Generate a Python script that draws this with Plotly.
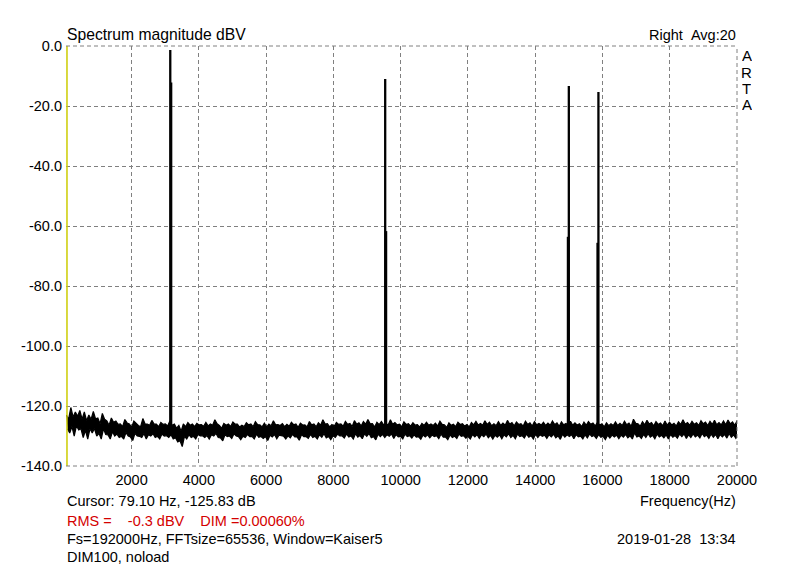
import numpy as np
import plotly.graph_objects as go

# ---------------- data ----------------
x_tick_vals = [2000, 4000, 6000, 8000, 10000, 12000, 14000, 16000, 18000, 20000]
x_tick_text = [str(v) for v in x_tick_vals]
y_tick_vals = [0, -20, -40, -60, -80, -100, -120, -140]
y_tick_text = ["0.0", "-20.0", "-40.0", "-60.0", "-80.0", "-100.0", "-120.0", "-140.0"]

# noise floor: upper and lower edge of the noise band, 60 Hz .. 20 kHz
noise_hi_db = [
    -123, -120.5, -122, -121.5, -122, -123, -121.8, -124, -122.5, -125,
    -124, -125, -126, -124.5, -126, -125, -126.5, -124.2, -126, -124.8,
    -126, -125.5, -126, -125, -126, -126.5, -126, -125.5, -126, -125.8,
    -126.2, -125.5, -126, -124.6, -126.5, -125.8, -126, -125.3, -126, -126.4,
    -125.6, -126, -125.2, -126.3, -125.7, -126, -124.9, -126.2, -125.9, -126.1,
    -125.4, -126, -125.7, -126.3, -125.2, -126, -125.6, -124.6, -125.9, -126.2,
    -125.5, -126, -125.1, -125.8, -124.9, -125.6, -125.2, -124.5, -125.9, -125.4,
    -125.2, -125.8, -124.6, -125.5, -126.1, -125.3, -125.9, -125.6, -126.2, -125.8,
    -125.4, -126, -125.7, -125.1, -126.3, -125.6, -126.1, -125.4, -125.9, -126.2,
    -125.5, -125.1, -125.8, -124.9, -125.4, -125.9, -125.2, -125.7, -124.8, -125.5,
    -125.3, -125.9, -125.1, -125.6, -125.2, -125.8, -125.4, -125.7, -125, -125.6,
    -125.3, -125.8, -125.1, -125.6, -125.9, -125.4, -125.2, -125.7, -125.5, -125.9,
    -125.6, -125.9, -125.3, -125.8, -125.1, -125.7, -124.4, -125.9, -125.2, -124.8,
    -125.5, -125.2, -125.7, -125, -125.4, -125.8, -125.3, -124.6, -125.5, -125.1,
    -125.6, -124.9, -125.4, -125.1, -124.8, -125.5, -125, -124.7, -125.3, -125,
]
noise_lo_db = [
    -129, -130, -128, -130.5, -131, -129, -130, -131, -129.5, -131,
    -130, -130.5, -131, -130, -131.5, -130, -130.5, -131, -130, -130.5,
    -131, -130, -130.5, -131, -132, -133.5, -131, -130.5, -131, -130,
    -130.5, -131, -130, -130.5, -131.6, -130.2, -130.8, -130, -131.2, -130.5,
    -130.2, -131, -130.4, -130.8, -131.5, -130.3, -130.9, -130, -131, -130.6,
    -130.3, -131.4, -130.2, -130.8, -130.5, -131, -130.4, -130.6, -131.2, -130.5,
    -130, -130.7, -130.3, -131, -130.4, -130.9, -130.1, -130.6, -131.3, -130.2,
    -130.5, -130.1, -130.8, -130.3, -131, -130.2, -130.7, -130.4, -131.1, -130.3,
    -130.6, -130.2, -130.9, -130.4, -131.2, -130.5, -130.8, -130.1, -130.7, -131,
    -130.3, -130.8, -130.2, -130.6, -131, -130.4, -130.9, -130.3, -130.5, -130.9,
    -130.2, -130.7, -130.4, -131, -130.5, -130.1, -130.8, -130.3, -130.6, -131.1,
    -130.4, -130.2, -130.9, -130.3, -131, -130.6, -130.2, -130.8, -130.4, -131.2,
    -130.7, -130.3, -130.9, -130.4, -130.6, -131, -130.3, -130.8, -130.5, -130.4,
    -130.9, -130.3, -130.6, -131, -130.4, -130.7, -130.2, -130.8, -130.5, -130.3,
    -130.6, -130.2, -130.8, -130.4, -130.9, -130.3, -130.7, -130.4, -130.8, -130.5,
]
noise_core_halfwidth_db = 1.6   # half-height of the solid core of the noise band
noise_f_start = 60
noise_f_stop = 20000

# spectral peaks (Hz), main-bin level and neighbouring-bin level (dBV)
peak_freqs = [3150, 9540, 15000, 15880]
peak_top_db = [-1.3, -11.0, -13.3, -15.3]
peak_side_db = [-12.2, -61.7, -63.6, -65.6]
peak_side_dir = [1, 1, -1, -1]
peak_base_db = -128.0

cursor_freq = 79.10
x_range = [50, 20000]
y_range = [-140, 0]

# ---------------- figure ----------------
hi = np.array(noise_hi_db)
lo = np.array(noise_lo_db)
mid = (hi + lo) / 2.0
noise_f = np.linspace(noise_f_start, noise_f_stop, len(hi))
step = noise_f[1] - noise_f[0]

# comb-shaped band edges: spike at each sample, back to core in between
up_x, up_y, dn_x, dn_y = [], [], [], []
for i in range(len(hi)):
    up_x += [noise_f[i], noise_f[i] + step * 0.5]
    up_y += [hi[i], mid[i] + noise_core_halfwidth_db]
    dn_x += [noise_f[i] + step * 0.25, noise_f[i] + step * 0.75]
    dn_y += [mid[i] - noise_core_halfwidth_db, lo[i]]

fig = go.Figure()
fig.add_trace(go.Scatter(x=dn_x, y=dn_y, mode="lines",
                         line=dict(color="black", width=1.2), hoverinfo="skip",
                         showlegend=False))
fig.add_trace(go.Scatter(x=up_x, y=up_y, mode="lines",
                         line=dict(color="black", width=1.2), fill="tonexty",
                         fillcolor="black", hoverinfo="skip", showlegend=False))

px_hz = (x_range[1] - x_range[0]) / 671.0
px_x, px_y = [], []
for f, top, side, d in zip(peak_freqs, peak_top_db, peak_side_db, peak_side_dir):
    px_x += [f, f, None, f + d * 0.9 * px_hz, f + d * 0.9 * px_hz, None]
    px_y += [peak_base_db, top, None, peak_base_db, side, None]
fig.add_trace(go.Scatter(x=px_x, y=px_y, mode="lines",
                         line=dict(color="black", width=2.3), hoverinfo="skip",
                         showlegend=False, connectgaps=False))

# cursor
fig.add_shape(type="line", xref="x", yref="paper", x0=cursor_freq, x1=cursor_freq,
              y0=0, y1=1, line=dict(color="#cccc00", width=1.5))

font_main = "Liberation Sans, Arial, sans-serif"
grid_col = "#808080"
fs = 14.5

fig.update_layout(
    width=800, height=568,
    margin=dict(l=66, r=63, t=46, b=102),
    paper_bgcolor="white", plot_bgcolor="white",
    font=dict(family=font_main, size=fs, color="black"),
    xaxis=dict(range=x_range, tickvals=x_tick_vals, ticktext=x_tick_text,
               showgrid=True, gridcolor=grid_col, gridwidth=1, griddash="4px,3px",
               zeroline=False, showline=False, ticks="", ticklabelstandoff=3,
               tickfont=dict(size=fs, color="black")),
    yaxis=dict(range=y_range, tickvals=y_tick_vals, ticktext=y_tick_text,
               showgrid=True, gridcolor=grid_col, gridwidth=1, griddash="4px,3px",
               zeroline=False, showline=False, ticks="", ticklabelstandoff=3,
               tickfont=dict(size=fs, color="black")),
)

# dashed frame top/right/bottom
for (x0, y0, x1, y1) in [(0, 1, 1, 1), (1, 0, 1, 1), (0, 0, 1, 0)]:
    fig.add_shape(type="line", xref="paper", yref="paper", x0=x0, y0=y0, x1=x1, y1=y1,
                  line=dict(color=grid_col, width=1, dash="4px,3px"))

H = 420.0
W = 671.0
def py(ypx):
    return (466 - ypx) / H
def pxp(xpx):
    return (xpx - 66) / W

nb = "\u00a0"
ann = [
    dict(text="Spectrum magnitude dBV", x=0, y=py(34), xanchor="left", size=15.7, color="black"),
    dict(text="Right" + nb * 2 + "Avg:20", x=1, y=py(34.5), xanchor="right", size=fs, color="black"),
    dict(text="Cursor: 79.10 Hz, -125.83 dB", x=0, y=py(501.5), xanchor="left", size=fs, color="black"),
    dict(text="Frequency(Hz)", x=1, y=py(501.5), xanchor="right", size=fs, color="black"),
    dict(text="RMS =" + nb * 3 + " -0.3 dBV" + nb * 3 + " DIM =0.00060%", x=0, y=py(521), xanchor="left", size=fs, color="#d40000"),
    dict(text="Fs=192000Hz, FFTsize=65536, Window=Kaiser5", x=0, y=py(539.3), xanchor="left", size=fs, color="black"),
    dict(text="2019-01-28" + nb * 2 + "13:34", x=1, y=py(539.3), xanchor="right", size=fs, color="black"),
    dict(text="DIM100, noload", x=0, y=py(556.7), xanchor="left", size=fs, color="black"),
]

for a in ann:
    fig.add_annotation(text=a["text"], xref="paper", yref="paper", x=a["x"], y=a["y"],
                       xanchor=a["xanchor"], yanchor="middle", showarrow=False,
                       font=dict(family=font_main, size=a["size"], color=a["color"]),
                       borderpad=0)

for ch, yy in zip("ARTA", [55, 72, 88, 104]):
    fig.add_annotation(text=ch, xref="paper", yref="paper", x=pxp(746.7), y=py(yy),
                       xanchor="center", yanchor="middle", showarrow=False, height=14,
                       font=dict(family=font_main, size=15, color="black"), borderpad=0)

fig.write_html("out.html", config={"displayModeBar": False},
               post_script="document.body.style.margin='0px';")
